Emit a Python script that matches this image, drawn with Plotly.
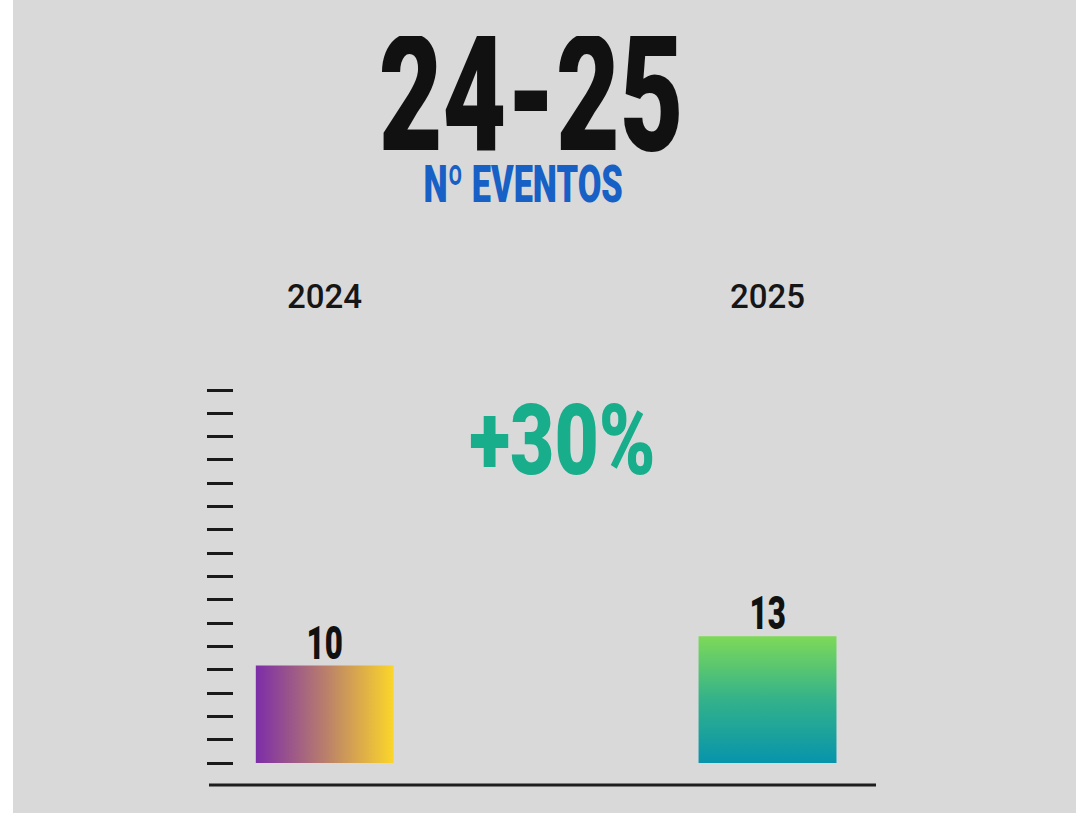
import plotly.graph_objects as go

# ---- data ----
years = ["2024", "2025"]
events = [10, 13]
title_text = "24-25"
subtitle_text = "Nº EVENTOS"
growth_text = "+30%"
x_pos = [0, 2]          # category slots (middle slot empty)
bar_width = 0.623

# ---- style ----
W, H = 1076, 813
L, R, T, B = 234, 200, 380, 28
BG = "#d9d9d9"
HEAVY = "Roboto, Liberation Sans, sans-serif"
px_per_unit = 9.75
tick_spacing_px = 23.31
plot_h = H - T - B
plot_w = W - L - R
y_min = -22 / px_per_unit
y_max = y_min + plot_h / px_per_unit
dtick = tick_spacing_px / px_per_unit


def px_x(p):
    return (p - L) / plot_w


def px_y(p):
    return (H - B - p) / plot_h


gradients = [
    dict(type="horizontal", colorscale=[[0, "#7c2da8"], [0.5, "#b97e6c"], [1, "#fbd62a"]]),
    dict(type="vertical", colorscale=[[0, "#0794ac"], [0.5, "#33b28a"], [1, "#7dd957"]]),
]

fig = go.Figure()
for xp, v, g in zip(x_pos, events, gradients):
    x0, x1 = xp - bar_width / 2, xp + bar_width / 2
    fig.add_trace(go.Scatter(
        x=[x0, x1, x1, x0, x0], y=[0, 0, v, v, 0],
        mode="lines", line=dict(width=0), fill="toself",
        fillgradient=g, hoverinfo="skip", showlegend=False,
    ))
    fig.add_annotation(x=xp, y=v, yshift=-6, yanchor="bottom", text=str(v), showarrow=False,
                       font=dict(family=HEAVY, size=46, color="#111111", weight=900))

for xp, yr in zip(x_pos, years):
    fig.add_annotation(x=xp, y=px_y(296), yref="paper", text=yr, showarrow=False,
                       yanchor="middle", font=dict(family="Roboto, Inter, sans-serif", size=33,
                                                   color="#161616", weight=500))

fig.add_annotation(x=px_x(531), y=px_y(95), xref="paper", yref="paper", text=title_text,
                   showarrow=False, yanchor="middle", height=118,
                   font=dict(family=HEAVY, size=162, color="#111111", weight=900))
fig.add_annotation(x=px_x(523), y=px_y(184), xref="paper", yref="paper", text=subtitle_text,
                   showarrow=False, yanchor="middle", height=40,
                   font=dict(family=HEAVY, size=52, color="#1660c6", weight=900))
fig.add_annotation(x=px_x(562), y=px_y(440), xref="paper", yref="paper", text=growth_text,
                   showarrow=False, yanchor="middle",
                   font=dict(family=HEAVY, size=98, color="#18ad8b", weight=900))

# bottom axis line
fig.add_shape(type="line", xref="paper", yref="paper", x0=px_x(209), x1=px_x(876), y0=0, y1=0,
              line=dict(color="#1e1e1e", width=3))
# left white strip
fig.add_shape(type="rect", xref="paper", yref="paper", x0=px_x(0), x1=px_x(13), y0=px_y(H), y1=px_y(0),
              fillcolor="white", line=dict(width=0), layer="below")

fig.update_layout(
    width=W, height=H, margin=dict(l=L, r=R, t=T, b=B),
    paper_bgcolor=BG, plot_bgcolor=BG, showlegend=False,
    xaxis=dict(range=[-0.41, 2.49], showgrid=False, zeroline=False, showticklabels=False,
               showline=False, ticks="", fixedrange=True),
    yaxis=dict(range=[y_min, y_max], tickmode="linear", tick0=0, dtick=dtick,
               ticks="outside", ticklen=26, tickwidth=2.5, tickcolor="#1a1a1a",
               showticklabels=False, showgrid=False, zeroline=False, showline=False,
               fixedrange=True),
)

# condensed look: horizontally squeeze the heavy display texts
post = """
document.body.style.margin='0';document.body.style.padding='0';
var sx = {'24-25':0.68,'Nº EVENTOS':0.66,'+30%':0.78,'10':0.68,'13':0.68};
document.querySelectorAll('text.annotation-text').forEach(function(t){
  var k = sx[t.textContent];
  if(k){t.style.transformBox='fill-box';t.style.transformOrigin='center';
        t.style.transform='scaleX('+k+')';}
});
"""
fig.write_html("out.html", post_script=post, config={"displayModeBar": False})
